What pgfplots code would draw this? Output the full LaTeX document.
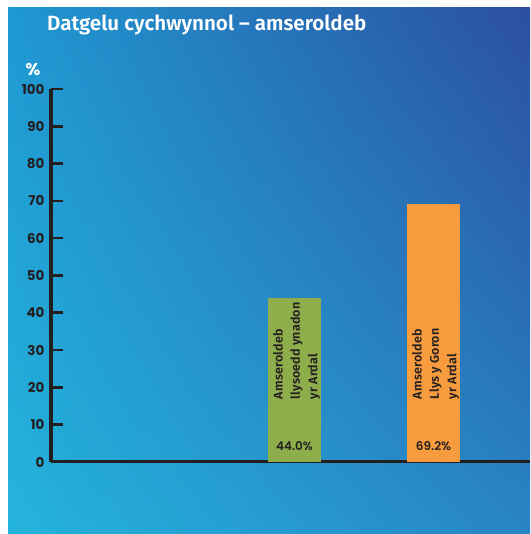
\documentclass[border=0pt]{standalone}
\usepackage{fontspec}
\usepackage{pgfplots}
\pgfplotsset{compat=1.18}
\usetikzlibrary{shadings}
\setmainfont{Fira Sans}
\newfontfamily\firasb{Fira Sans}[UprightFont=*-SemiBold,BoldFont=*-Bold]
\newfontfamily\firasbsp{Fira Sans}[UprightFont=*-SemiBold,LetterSpace=1.5]
\newfontfamily\pop{Poppins}[UprightFont=*-SemiBold,BoldFont=*-Bold]
\definecolor{dark}{HTML}{231F20}
\definecolor{cgreen}{HTML}{8EAD4B}
\definecolor{corange}{HTML}{F79C3E}
\definecolor{bgLL}{HTML}{24B4DC}
\definecolor{bgUL}{HTML}{1F98D2}
\definecolor{bgLR}{HTML}{2884C5}
\definecolor{bgUR}{HTML}{2C4F9F}
\begin{document}
\begin{tikzpicture}[x=1pt,y=1pt]
\fill[white] (0,0) rectangle (530,534);
\shade[lower left=bgLL, upper left=bgUL, lower right=bgLR, upper right=bgUR] (8,0) rectangle (530,526);
\begin{axis}[
  at={(51pt,72pt)}, anchor=south west,
  scale only axis, width=479pt, height=373pt,
  xmin=-0.7518, xmax=2.694, ymin=0, ymax=100,
  axis x line=bottom, axis y line=left,
  axis line style={line width=3pt, dark, -},
  xtick=\empty,
  ytick={0,10,...,100},
  major tick length=12pt,
  tick align=inside,
  tick style={line width=2.6pt, dark},
  /pgf/number format/assume math mode=true,
  yticklabel style={font=\pop\bfseries\fontsize{13.5}{15}\selectfont, text=dark, xshift=-3pt},
  clip=false,
  title={\firasb\fontsize{20.6}{24}\selectfont Datgelu cychwynnol – amseroldeb},
  title style={at={(rel axis cs:0,1)}, anchor=base west, xshift=-4pt, yshift=52pt, text=white, inner sep=0pt},
  ylabel={\pop\bfseries\fontsize{17}{19}\selectfont\%},
  ylabel style={rotate=-90, at={(rel axis cs:0,1)}, anchor=center, xshift=-18pt, yshift=19pt, text=white, inner sep=0pt},
  ybar, bar width=53pt, bar shift=0pt,
]
\addplot[fill=cgreen, draw=none] coordinates {(1,44.0)};
\addplot[fill=corange, draw=none] coordinates {(2,69.2)};
\node[rotate=90, anchor=west, align=left, inner sep=0pt, text=dark, font=\firasbsp\fontsize{12.5}{17.3}\selectfont] at (axis cs:1.015,16.8) {Amseroldeb\\llysoedd ynadon\\yr Ardal};
\node[rotate=90, anchor=west, align=left, inner sep=0pt, text=dark, font=\firasbsp\fontsize{12.5}{17.3}\selectfont] at (axis cs:2.015,16.8) {Amseroldeb\\Llys y Goron\\yr Ardal};
\node[text=dark, font=\pop\fontsize{12}{14}\selectfont, inner sep=0pt] at (axis cs:1,4.3) {44.0\%};
\node[text=dark, font=\pop\fontsize{12}{14}\selectfont, inner sep=0pt] at (axis cs:2,4.3) {69.2\%};
\end{axis}
\pgfresetboundingbox
\path[use as bounding box] (0,0) rectangle (530,534);
\end{tikzpicture}
\end{document}
